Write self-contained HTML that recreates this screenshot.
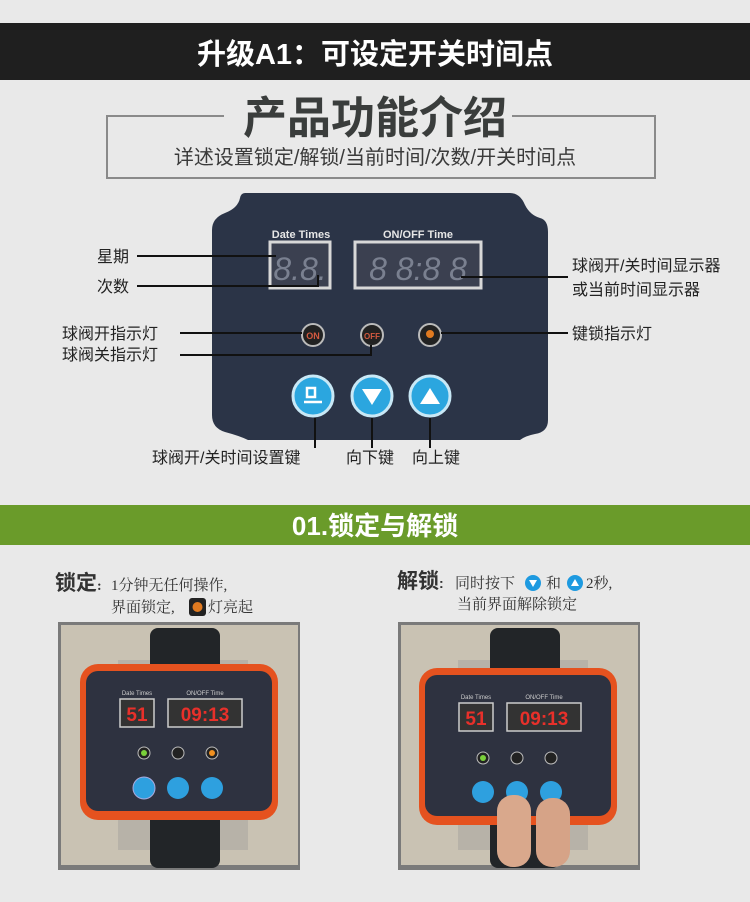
<!DOCTYPE html>
<html><head><meta charset="utf-8"><style>
html,body{margin:0;padding:0;background:#e9e9e9;}
svg{display:block}
text{font-family:"Liberation Sans","Noto Sans CJK SC",sans-serif}
.s{font-family:"Liberation Serif","Noto Serif CJK SC",serif}
</style></head><body>
<svg width="750" height="902" viewBox="0 0 750 902" xmlns="http://www.w3.org/2000/svg">
<rect width="750" height="902" fill="#e9e9e9"/>
<rect x="0" y="23" width="750" height="57" fill="#1f1f1f"/>
<text x="375" y="64" font-size="29" font-weight="bold" fill="#fff" text-anchor="middle">升级A1：可设定开关时间点</text>
<polyline points="224,116 107,116 107,178 655,178 655,116 512,116" fill="none" stroke="#8a8a8a" stroke-width="2"/>
<text x="375" y="133" font-size="44" font-weight="bold" fill="#3a3d3c" text-anchor="middle">产品功能介绍</text>
<text x="375" y="164" font-size="20" fill="#3a3a3a" text-anchor="middle">详述设置锁定/解锁/当前时间/次数/开关时间点</text>
<path d="M245,193 L510,193 Q520,193 525,205 Q530,215 540,218 Q548,220 548,232 L548,420 Q548,432 535,434 Q525,436 520,440 L248,440 Q240,436 225,432 Q212,428 212,415 L212,230 Q212,218 225,213 Q238,208 240,198 Q241,193 245,193 Z" fill="#2b3447"/>
<text x="301" y="238" font-size="11" font-weight="bold" fill="#e6e6e6" text-anchor="middle">Date Times</text>
<text x="418" y="238" font-size="11" font-weight="bold" fill="#e6e6e6" text-anchor="middle">ON/OFF Time</text>
<rect x="270" y="242" width="60" height="46" fill="#3b4050" stroke="#d8d8d8" stroke-width="3"/>
<rect x="355" y="242" width="126" height="46" fill="#3b4050" stroke="#d8d8d8" stroke-width="3"/>
<text x="300" y="280" font-size="32" fill="#7a8090" text-anchor="middle" font-style="italic">8.8.</text>
<text x="418" y="280" font-size="32" fill="#7a8090" text-anchor="middle" font-style="italic">8 8:8 8</text>
<circle cx="313" cy="335" r="11" fill="#222" stroke="#bbb" stroke-width="2"/>
<text x="313" y="339" font-size="9" fill="#d45a40" text-anchor="middle" font-weight="bold">ON</text>
<circle cx="372" cy="335" r="11" fill="#222" stroke="#bbb" stroke-width="2"/>
<text x="372" y="339" font-size="8" fill="#d45a40" text-anchor="middle" font-weight="bold">OFF</text>
<circle cx="430" cy="335" r="11" fill="#222" stroke="#bbb" stroke-width="2"/>
<circle cx="430" cy="334" r="4" fill="#e07a20"/>
<g fill="#2ba6df" stroke="#c8e8f6" stroke-width="3">
<circle cx="313" cy="396" r="20"/><circle cx="372" cy="396" r="20"/><circle cx="430" cy="396" r="20"/>
</g>
<path d="M304,402 L322,402 M307,397 L315,397 L315,388 L307,388 Z" fill="none" stroke="#fff" stroke-width="2.5"/>
<polygon points="362,389 382,389 372,405" fill="#fff"/>
<polygon points="420,404 440,404 430,388" fill="#fff"/>
<g stroke="#111" stroke-width="2" fill="none">
<line x1="137" y1="256" x2="276" y2="256"/>
<polyline points="137,286 318,286 318,275"/>
<line x1="180" y1="333" x2="302" y2="333"/>
<polyline points="180,355 371,355 371,345"/>
<line x1="441" y1="333" x2="568" y2="333"/>
<line x1="461" y1="277" x2="568" y2="277"/>
<line x1="315" y1="418" x2="315" y2="448"/>
<line x1="372" y1="418" x2="372" y2="448"/>
<line x1="430" y1="418" x2="430" y2="448"/>
</g>
<g font-size="16" fill="#222">
<text x="97" y="262">星期</text>
<text x="97" y="292">次数</text>
<text x="62" y="339">球阀开指示灯</text>
<text x="62" y="360">球阀关指示灯</text>
<text x="572" y="271">球阀开/关时间显示器</text>
<text x="572" y="295">或当前时间显示器</text>
<text x="572" y="339">键锁指示灯</text>
<text x="152" y="463">球阀开/关时间设置键</text>
<text x="346" y="463">向下键</text>
<text x="412" y="463">向上键</text>
</g>
<rect x="0" y="505" width="750" height="40" fill="#6a9b2a"/>
<text x="375" y="535" font-size="26" font-weight="bold" fill="#fff" text-anchor="middle">01.锁定与解锁</text>
<text x="55" y="590" font-size="21" font-weight="bold" fill="#333">锁定<tspan font-size="14" class="s">:</tspan></text>
<text x="111" y="590" font-size="15" fill="#333" class="s">1分钟无任何操作,</text>
<text x="111" y="612" font-size="15" fill="#333" class="s">界面锁定,</text>
<rect x="189" y="598" width="17" height="18" rx="3" fill="#222"/><circle cx="197.5" cy="607" r="5" fill="#e07a20"/>
<text x="208" y="612" font-size="15" fill="#333" class="s">灯亮起</text>
<text x="397" y="588" font-size="21" font-weight="bold" fill="#333">解锁<tspan font-size="14">:</tspan></text>
<text x="455" y="588" font-size="15" fill="#333" class="s">同时按下</text>
<circle cx="533" cy="583" r="8" fill="#1e9ae0"/><polygon points="529,580 537,580 533,587" fill="#fff"/>
<text x="546" y="588" font-size="15" fill="#333" class="s">和</text>
<circle cx="575" cy="583" r="8" fill="#1e9ae0"/><polygon points="571,586 579,586 575,579" fill="#fff"/>
<text x="586" y="588" font-size="15" fill="#333" class="s">2秒,</text>
<text x="457" y="609" font-size="15" fill="#333" class="s">当前界面解除锁定</text>
<g>
<rect x="58" y="622" width="242" height="248" fill="#7a7a7a"/>
<rect x="61" y="625" width="237" height="240" fill="#c9c2b3"/>
<rect x="118" y="660" width="130" height="190" fill="#b7b2a8"/>
<rect x="150" y="628" width="70" height="240" fill="#222528" rx="8"/>
<rect x="80" y="664" width="198" height="156" rx="18" fill="#e5521f"/>
<rect x="86" y="671" width="186" height="140" rx="12" fill="#2e3240"/>
<rect x="120" y="699" width="34" height="28" fill="#333" stroke="#ccc" stroke-width="1.5"/>
<rect x="168" y="699" width="74" height="28" fill="#333" stroke="#ccc" stroke-width="1.5"/>
<text x="137" y="721" font-size="19" font-weight="bold" fill="#e8302a" text-anchor="middle">51</text>
<text x="205" y="721" font-size="19" font-weight="bold" fill="#e8302a" text-anchor="middle">09:13</text>
<text x="137" y="695" font-size="6" fill="#ccc" text-anchor="middle">Date Times</text>
<text x="205" y="695" font-size="6" fill="#ccc" text-anchor="middle">ON/OFF Time</text>
<circle cx="144" cy="753" r="6" fill="#222" stroke="#bbb"/><circle cx="144" cy="753" r="3" fill="#7ad03a"/>
<circle cx="178" cy="753" r="6" fill="#222" stroke="#bbb"/>
<circle cx="212" cy="753" r="6" fill="#222" stroke="#bbb"/><circle cx="212" cy="753" r="3" fill="#f09020"/>
<circle cx="144" cy="788" r="11" fill="#2ea0df" stroke="#aad" stroke-width="1"/><circle cx="178" cy="788" r="11" fill="#2ea0df"/><circle cx="212" cy="788" r="11" fill="#2ea0df"/>
</g>
<g>
<rect x="398" y="622" width="242" height="248" fill="#7a7a7a"/>
<rect x="401" y="625" width="237" height="240" fill="#c9c2b3"/>
<rect x="458" y="660" width="130" height="190" fill="#b7b2a8"/>
<rect x="490" y="628" width="70" height="240" fill="#222528" rx="8"/>
<rect x="419" y="668" width="198" height="157" rx="18" fill="#e5521f"/>
<rect x="425" y="675" width="186" height="141" rx="12" fill="#2e3240"/>
<rect x="459" y="703" width="34" height="28" fill="#333" stroke="#ccc" stroke-width="1.5"/>
<rect x="507" y="703" width="74" height="28" fill="#333" stroke="#ccc" stroke-width="1.5"/>
<text x="476" y="725" font-size="19" font-weight="bold" fill="#e8302a" text-anchor="middle">51</text>
<text x="544" y="725" font-size="19" font-weight="bold" fill="#e8302a" text-anchor="middle">09:13</text>
<text x="476" y="699" font-size="6" fill="#ccc" text-anchor="middle">Date Times</text>
<text x="544" y="699" font-size="6" fill="#ccc" text-anchor="middle">ON/OFF Time</text>
<circle cx="483" cy="758" r="6" fill="#222" stroke="#bbb"/><circle cx="483" cy="758" r="3" fill="#7ad03a"/>
<circle cx="517" cy="758" r="6" fill="#222" stroke="#bbb"/>
<circle cx="551" cy="758" r="6" fill="#222" stroke="#bbb"/>
<circle cx="483" cy="792" r="11" fill="#2ea0df"/><circle cx="517" cy="792" r="11" fill="#2ea0df"/><circle cx="551" cy="792" r="11" fill="#2ea0df"/>
<rect x="497" y="795" width="34" height="72" rx="16" fill="#d9a88c"/>
<rect x="536" y="798" width="34" height="69" rx="16" fill="#d6a387"/>
</g>
</svg>
</body></html>
